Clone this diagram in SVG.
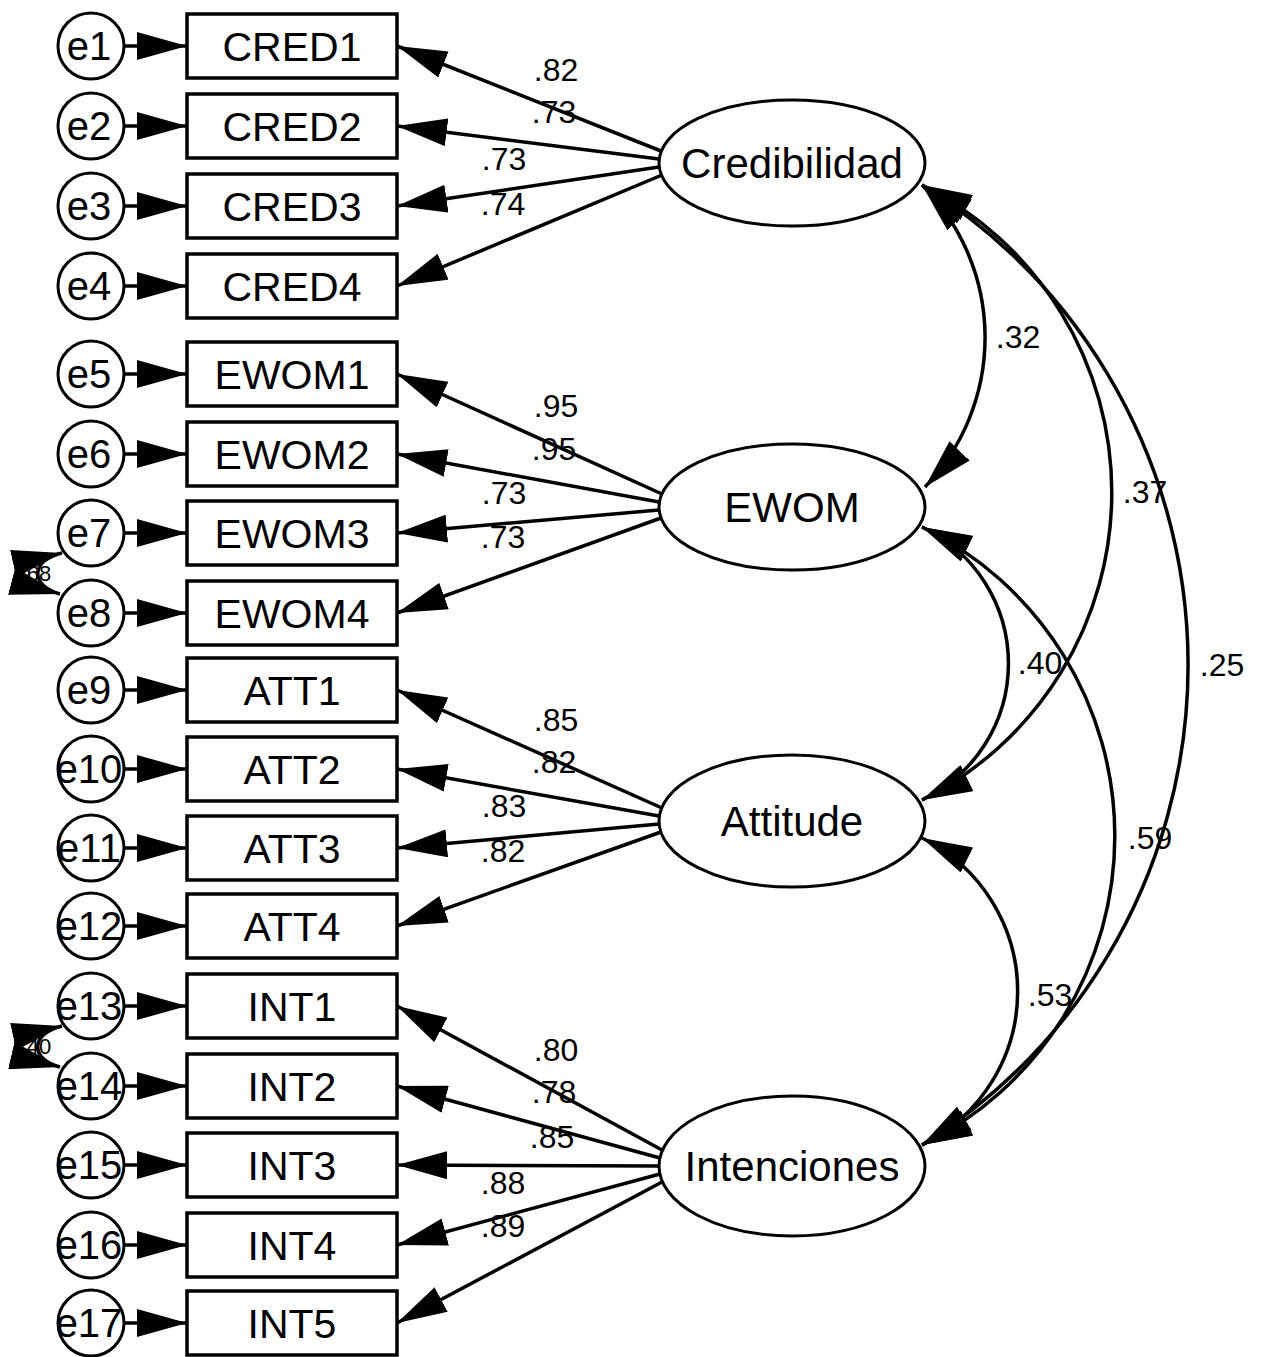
<svg xmlns="http://www.w3.org/2000/svg" width="1265" height="1357" viewBox="0 0 1265 1357">
  <style>
    .box { fill: #fff; stroke: #000; stroke-width: 3.5; }
    .err { fill: #fff; stroke: #000; stroke-width: 3; }
    .lat { fill: #fff; stroke: #000; stroke-width: 3; }
    .lbl { font-family: "Liberation Sans", Arial, sans-serif; font-size: 41px; fill: #000; text-anchor: middle; }
    .elbl { font-family: "Liberation Sans", Arial, sans-serif; font-size: 40px; fill: #000; text-anchor: middle; }
    .llbl { font-family: "Liberation Sans", Arial, sans-serif; font-size: 42px; fill: #000; text-anchor: middle; }
    .num { font-family: "Liberation Sans", Arial, sans-serif; font-size: 32px; fill: #000; text-anchor: middle; }
    .sm { font-family: "Liberation Sans", Arial, sans-serif; font-size: 22px; fill: #000; text-anchor: middle; }
    .ln { fill: none; stroke: #000; stroke-width: 3.5; marker-end: url(#ah); }
    .dbl { fill: none; stroke: #000; stroke-width: 3.5; marker-start: url(#ah); marker-end: url(#ah); }
  </style>
  <defs>
    <marker id="ah" viewBox="0 0 50 28" refX="50" refY="14" markerWidth="50" markerHeight="28" markerUnits="userSpaceOnUse" orient="auto-start-reverse">
      <path d="M0,0 L50,14 L0,28 Z" fill="#000"/>
    </marker>
  </defs>

  <rect width="1265" height="1357" fill="#fff"/>

  <!-- connectors -->
  <g id="connectors">
    <!-- error terms to indicators -->
    <path class="ln" d="M124,46 L187,46"/>
    <path class="ln" d="M124,126 L187,126"/>
    <path class="ln" d="M124,206 L187,206"/>
    <path class="ln" d="M124,286 L187,286"/>
    <path class="ln" d="M124,374 L187,374"/>
    <path class="ln" d="M124,454 L187,454"/>
    <path class="ln" d="M124,533 L187,533"/>
    <path class="ln" d="M124,613 L187,613"/>
    <path class="ln" d="M124,690 L187,690"/>
    <path class="ln" d="M124,769 L187,769"/>
    <path class="ln" d="M124,848 L187,848"/>
    <path class="ln" d="M124,926 L187,926"/>
    <path class="ln" d="M124,1006 L187,1006"/>
    <path class="ln" d="M124,1086 L187,1086"/>
    <path class="ln" d="M124,1165 L187,1165"/>
    <path class="ln" d="M124,1245 L187,1245"/>
    <path class="ln" d="M124,1323 L187,1323"/>

    <!-- error covariances -->
    <path class="dbl" d="M62,553 C30,560 30,586 60,594"/>
    <path class="dbl" d="M62,1026 C30,1033 30,1060 60,1067"/>

    <!-- loadings: Credibilidad -->
    <path class="ln" d="M661,151 L397,46"/>
    <path class="ln" d="M659,159 L397,126"/>
    <path class="ln" d="M659,167 L397,206"/>
    <path class="ln" d="M662,175 L397,286"/>
    <!-- loadings: EWOM -->
    <path class="ln" d="M662,494 L397,374"/>
    <path class="ln" d="M659,502 L397,454"/>
    <path class="ln" d="M659,510 L397,533"/>
    <path class="ln" d="M661,518 L397,613"/>
    <!-- loadings: Attitude -->
    <path class="ln" d="M662,808 L397,690"/>
    <path class="ln" d="M659,816 L397,769"/>
    <path class="ln" d="M659,824 L397,848"/>
    <path class="ln" d="M661,832 L397,926"/>
    <!-- loadings: Intenciones -->
    <path class="ln" d="M662,1150 L397,1006"/>
    <path class="ln" d="M660,1158 L397,1086"/>
    <path class="ln" d="M659,1166 L397,1165"/>
    <path class="ln" d="M660,1174 L397,1245"/>
    <path class="ln" d="M662,1182 L397,1323"/>

    <!-- latent covariances -->
    <path class="dbl" d="M922,185 A216,216 0 0 1 925,487"/>
    <path class="dbl" d="M922,185 A344,344 0 0 1 922,800"/>
    <path class="dbl" d="M922,185 A566,566 0 0 1 922,1145"/>
    <path class="dbl" d="M922,527 A151,151 0 0 1 922,800"/>
    <path class="dbl" d="M922,527 A344,344 0 0 1 922,1145"/>
    <path class="dbl" d="M922,838 A171,171 0 0 1 922,1145"/>
  </g>

  <!-- coefficient labels -->
  <g id="estimates">
    <text class="num" x="556" y="81">.82</text>
    <text class="num" x="554" y="123">.73</text>
    <text class="num" x="504" y="170">.73</text>
    <text class="num" x="503" y="215">.74</text>

    <text class="num" x="556" y="417">.95</text>
    <text class="num" x="554" y="460">.95</text>
    <text class="num" x="504" y="504">.73</text>
    <text class="num" x="503" y="548">.73</text>

    <text class="num" x="556" y="731">.85</text>
    <text class="num" x="554" y="773">.82</text>
    <text class="num" x="504" y="817">.83</text>
    <text class="num" x="503" y="862">.82</text>

    <text class="num" x="556" y="1061">.80</text>
    <text class="num" x="554" y="1103">.78</text>
    <text class="num" x="552" y="1148">.85</text>
    <text class="num" x="503" y="1194">.88</text>
    <text class="num" x="503" y="1237">.89</text>

    <text class="num" x="1018" y="348">.32</text>
    <text class="num" x="1145" y="503">.37</text>
    <text class="num" x="1040" y="674">.40</text>
    <text class="num" x="1222" y="676">.25</text>
    <text class="num" x="1150" y="849">.59</text>
    <text class="num" x="1050" y="1006">.53</text>

    <text class="sm" x="36" y="581">.68</text>
    <text class="sm" x="36" y="1054">.40</text>
  </g>

  <!-- error terms -->
  <g id="e1"><circle class="err" cx="91" cy="46" r="33"/><text class="elbl" x="89" y="60">e1</text></g>
  <g id="e2"><circle class="err" cx="91" cy="126" r="33"/><text class="elbl" x="89" y="140">e2</text></g>
  <g id="e3"><circle class="err" cx="91" cy="206" r="33"/><text class="elbl" x="89" y="220">e3</text></g>
  <g id="e4"><circle class="err" cx="91" cy="286" r="33"/><text class="elbl" x="89" y="300">e4</text></g>
  <g id="e5"><circle class="err" cx="91" cy="374" r="33"/><text class="elbl" x="89" y="388">e5</text></g>
  <g id="e6"><circle class="err" cx="91" cy="454" r="33"/><text class="elbl" x="89" y="468">e6</text></g>
  <g id="e7"><circle class="err" cx="91" cy="533" r="33"/><text class="elbl" x="89" y="547">e7</text></g>
  <g id="e8"><circle class="err" cx="91" cy="613" r="33"/><text class="elbl" x="89" y="627">e8</text></g>
  <g id="e9"><circle class="err" cx="91" cy="690" r="33"/><text class="elbl" x="89" y="704">e9</text></g>
  <g id="e10"><circle class="err" cx="91" cy="769" r="33"/><text class="elbl" x="89" y="783">e10</text></g>
  <g id="e11"><circle class="err" cx="91" cy="848" r="33"/><text class="elbl" x="89" y="862">e11</text></g>
  <g id="e12"><circle class="err" cx="91" cy="926" r="33"/><text class="elbl" x="89" y="940">e12</text></g>
  <g id="e13"><circle class="err" cx="91" cy="1006" r="33"/><text class="elbl" x="89" y="1020">e13</text></g>
  <g id="e14"><circle class="err" cx="91" cy="1086" r="33"/><text class="elbl" x="89" y="1100">e14</text></g>
  <g id="e15"><circle class="err" cx="91" cy="1165" r="33"/><text class="elbl" x="89" y="1179">e15</text></g>
  <g id="e16"><circle class="err" cx="91" cy="1245" r="33"/><text class="elbl" x="89" y="1259">e16</text></g>
  <g id="e17"><circle class="err" cx="91" cy="1323" r="33"/><text class="elbl" x="89" y="1337">e17</text></g>

  <!-- observed indicators -->
  <g id="CRED1"><rect class="box" x="187" y="14" width="210" height="64"/><text class="lbl" x="292" y="61">CRED1</text></g>
  <g id="CRED2"><rect class="box" x="187" y="94" width="210" height="64"/><text class="lbl" x="292" y="141">CRED2</text></g>
  <g id="CRED3"><rect class="box" x="187" y="174" width="210" height="64"/><text class="lbl" x="292" y="221">CRED3</text></g>
  <g id="CRED4"><rect class="box" x="187" y="254" width="210" height="64"/><text class="lbl" x="292" y="301">CRED4</text></g>
  <g id="EWOM1"><rect class="box" x="187" y="342" width="210" height="64"/><text class="lbl" x="292" y="389">EWOM1</text></g>
  <g id="EWOM2"><rect class="box" x="187" y="422" width="210" height="64"/><text class="lbl" x="292" y="469">EWOM2</text></g>
  <g id="EWOM3"><rect class="box" x="187" y="501" width="210" height="64"/><text class="lbl" x="292" y="548">EWOM3</text></g>
  <g id="EWOM4"><rect class="box" x="187" y="581" width="210" height="64"/><text class="lbl" x="292" y="628">EWOM4</text></g>
  <g id="ATT1"><rect class="box" x="187" y="658" width="210" height="64"/><text class="lbl" x="292" y="705">ATT1</text></g>
  <g id="ATT2"><rect class="box" x="187" y="737" width="210" height="64"/><text class="lbl" x="292" y="784">ATT2</text></g>
  <g id="ATT3"><rect class="box" x="187" y="816" width="210" height="64"/><text class="lbl" x="292" y="863">ATT3</text></g>
  <g id="ATT4"><rect class="box" x="187" y="894" width="210" height="64"/><text class="lbl" x="292" y="941">ATT4</text></g>
  <g id="INT1"><rect class="box" x="187" y="974" width="210" height="64"/><text class="lbl" x="292" y="1021">INT1</text></g>
  <g id="INT2"><rect class="box" x="187" y="1054" width="210" height="64"/><text class="lbl" x="292" y="1101">INT2</text></g>
  <g id="INT3"><rect class="box" x="187" y="1133" width="210" height="64"/><text class="lbl" x="292" y="1180">INT3</text></g>
  <g id="INT4"><rect class="box" x="187" y="1213" width="210" height="64"/><text class="lbl" x="292" y="1260">INT4</text></g>
  <g id="INT5"><rect class="box" x="187" y="1291" width="210" height="64"/><text class="lbl" x="292" y="1338">INT5</text></g>

  <!-- latent constructs -->
  <g id="Credibilidad"><ellipse class="lat" cx="792" cy="163" rx="133" ry="63"/><text class="llbl" x="792" y="178">Credibilidad</text></g>
  <g id="EWOM"><ellipse class="lat" cx="792" cy="507" rx="133" ry="63"/><text class="llbl" x="792" y="522">EWOM</text></g>
  <g id="Attitude"><ellipse class="lat" cx="792" cy="821" rx="133" ry="66"/><text class="llbl" x="792" y="836">Attitude</text></g>
  <g id="Intenciones"><ellipse class="lat" cx="792" cy="1166" rx="133" ry="70"/><text class="llbl" x="792" y="1181">Intenciones</text></g>
</svg>
